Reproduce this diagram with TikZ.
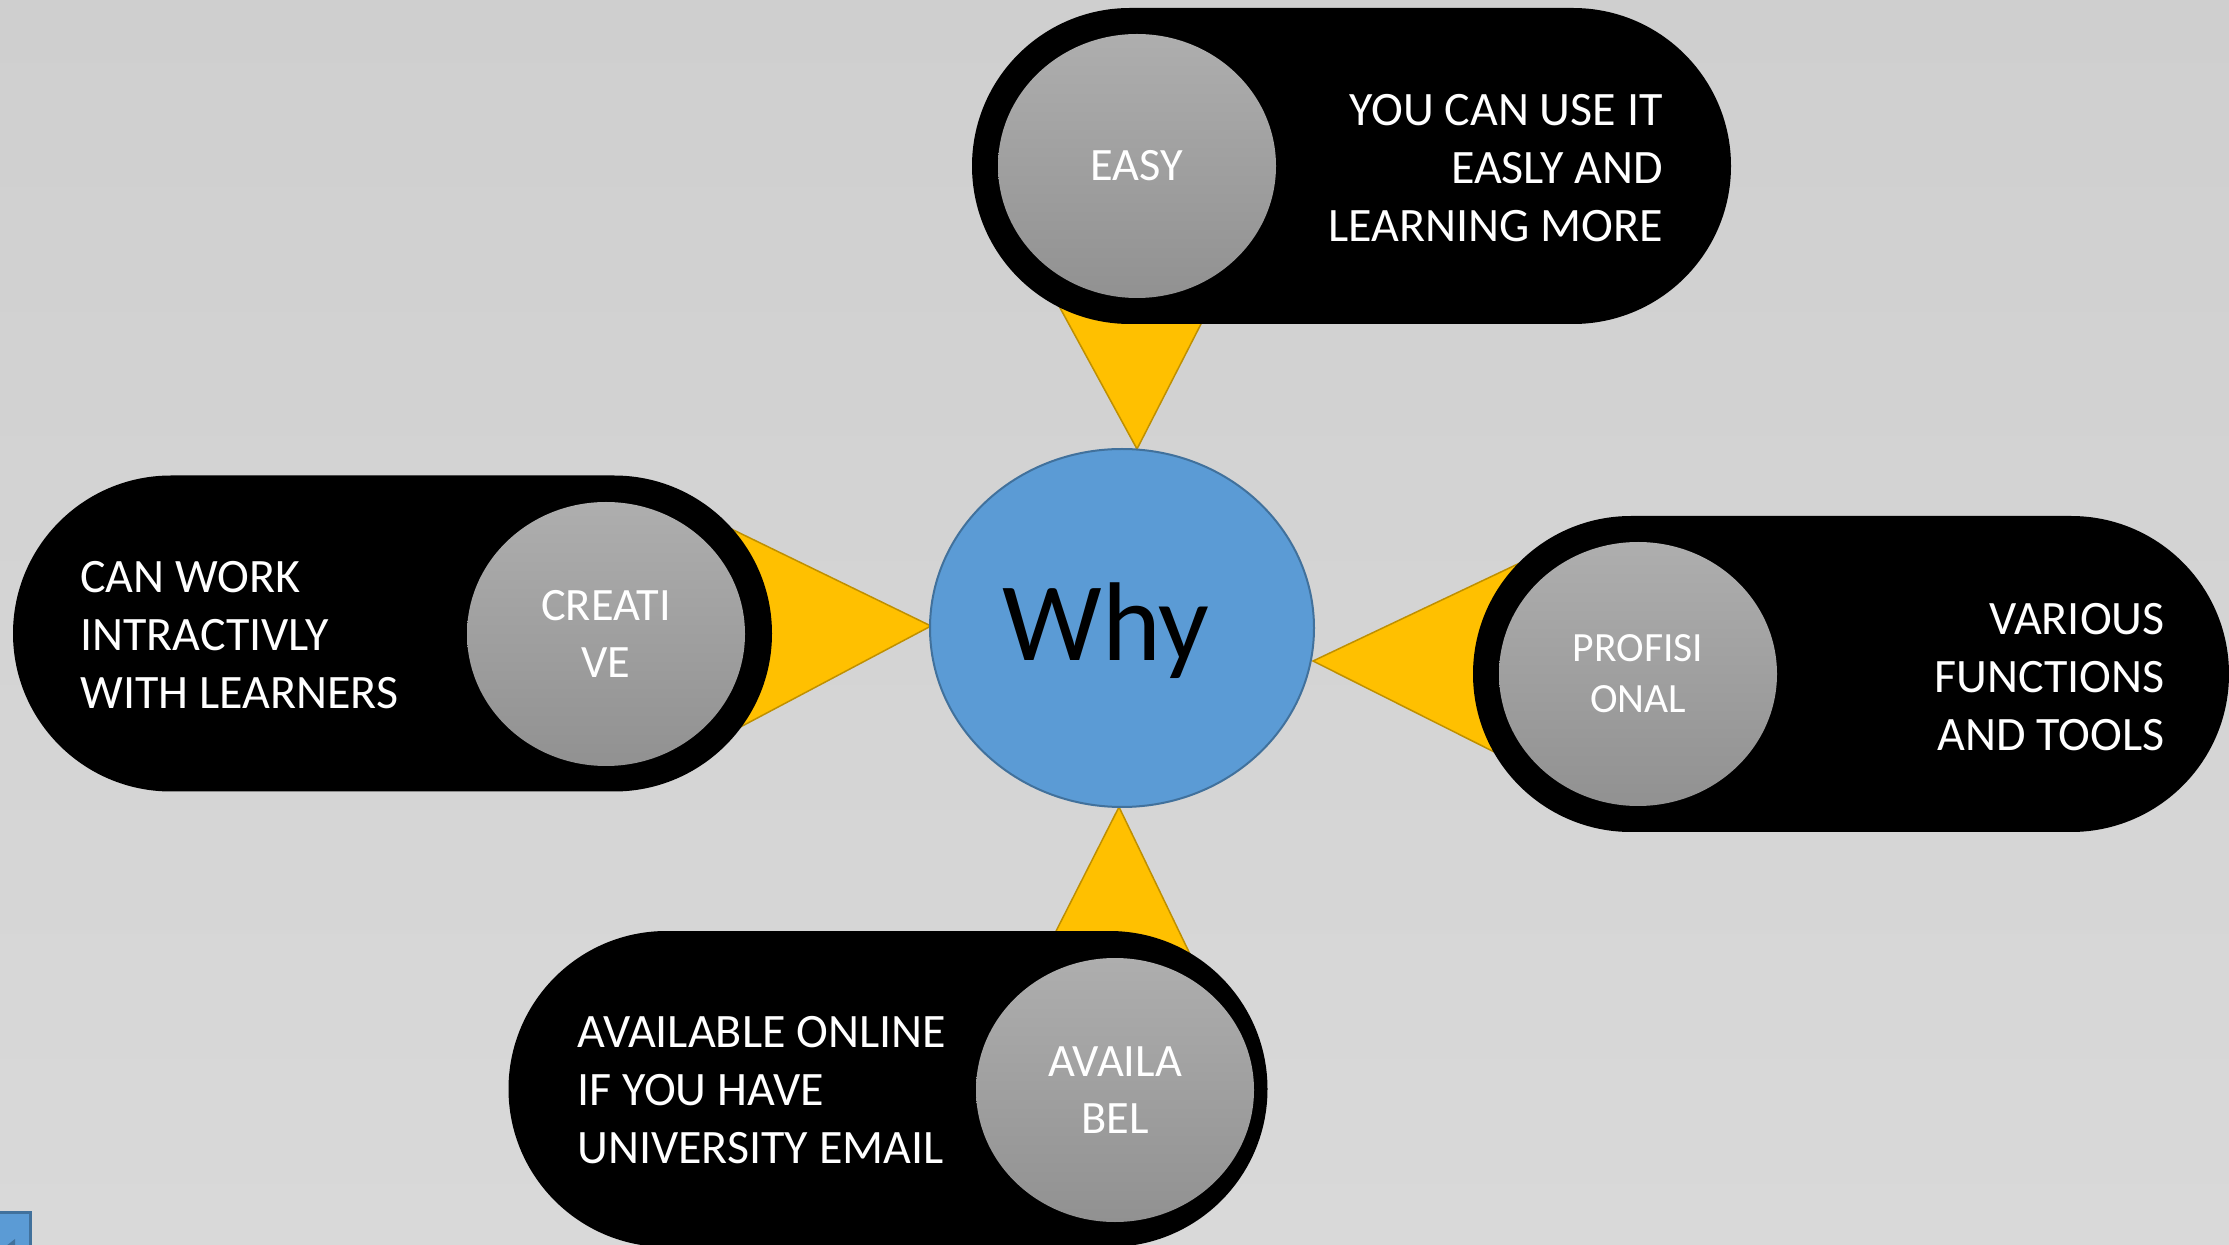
\documentclass[tikz,border=0pt]{standalone}
\usepackage{fontspec}
\setmainfont{Carlito}
\usetikzlibrary{shapes.geometric}
\definecolor{bgtop}{RGB}{207,207,207}
\definecolor{bgbot}{RGB}{217,217,217}
\definecolor{whyfill}{RGB}{91,155,213}
\definecolor{whyline}{RGB}{65,113,156}
\definecolor{trifill}{RGB}{255,192,0}
\definecolor{triline}{RGB}{191,144,0}
\definecolor{graytop}{RGB}{174,174,174}
\definecolor{graybot}{RGB}{145,145,145}
\tikzset{
  pill/.style={rectangle, fill=black, draw=none, inner sep=0pt,
    minimum width=379.5pt, minimum height=158pt, rounded corners=79pt},
  knob/.style={ellipse, draw=none, inner sep=0pt, minimum width=139pt,
    minimum height=132pt, top color=graytop, bottom color=graybot,
    text=white, align=center, font=\fontsize{23.2}{28.5}\selectfont},
  smallknob/.style={knob, font=\fontsize{20.8}{25.6}\selectfont},
  pilltext/.style={text=white, inner sep=0pt, font=\fontsize{24}{28.8}\selectfont},
  wedge/.style={fill=trifill, draw=triline, line width=0.75pt, line join=miter},
}
\begin{document}
\begin{tikzpicture}[x=0.5pt, y=-0.5pt]
\useasboundingbox (0,0) rectangle (2229,1245);
\shade[top color=bgtop, bottom color=bgbot] (0,0) rectangle (2229,1245);

% wedges
\draw[wedge] (1023,240) -- (1244,240) -- (1137,449) -- cycle;
\draw[wedge] (680,504) -- (680,759) -- (931,626) -- cycle;
\draw[wedge] (1560,544) -- (1560,785) -- (1313,661) -- cycle;
\draw[wedge] (1016,1010) -- (1217,1010) -- (1119,807) -- cycle;

% centre
\node[ellipse, fill=whyfill, draw=whyline, line width=1pt, inner sep=0pt,
      minimum width=192pt, minimum height=179pt] (why) at (1122,628) {};
\node[anchor=base, inner sep=0pt, font=\fontsize{56}{60}\selectfont] (whytext) at (1106,661) {Why};

% pills
\node[pill] (ptop) at (1351.5,166) {};
\node[pill] (pleft) at (392.5,633.5) {};
\node[pill, minimum width=378pt] (pright) at (1851,674) {};
\node[pill] (pbot) at (888,1089) {};

% knobs
\node[knob] (easy) at (1137,166) {EASY};
\node[knob] (creative) at (606,634) {CREATI\\VE};
\node[smallknob] (prof) at (1638,674) {PROFISI\\ONAL};
\node[knob] (avail) at (1115,1090) {AVAILA\\BEL};

% texts
\node[pilltext, anchor=east, align=right] (ttop) at (1663,168) {YOU CAN USE IT\\EASLY AND\\LEARNING MORE};
\node[pilltext, anchor=west, align=left] (tleft) at (80,635) {CAN WORK\\INTRACTIVLY\\WITH LEARNERS};
\node[pilltext, anchor=east, align=right] (tright) at (2165,677) {VARIOUS\\FUNCTIONS\\AND TOOLS};
\node[pilltext, anchor=west, align=left] (tbot) at (577,1090) {AVAILABLE ONLINE\\IF YOU HAVE\\UNIVERSITY EMAIL};

% corner mark
\fill[whyfill, draw=whyline, line width=1.5pt] (-5,1212) rectangle (30,1260);
\fill[whyline] (6,1246) -- (15,1239) -- (15,1246) -- cycle;
\end{tikzpicture}
\end{document}
